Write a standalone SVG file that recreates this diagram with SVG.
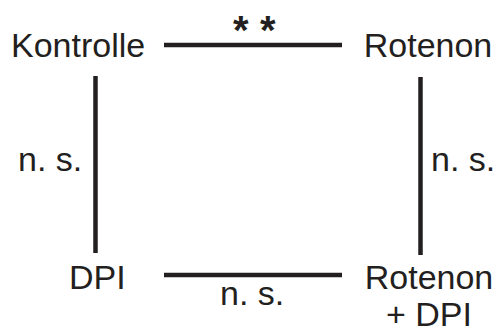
<svg xmlns="http://www.w3.org/2000/svg" width="498" height="331" viewBox="0 0 498 331">
<style>
text{font-family:"Liberation Sans",Arial,sans-serif;font-size:34px;fill:#231f20}
.c{stroke:#231f20;stroke-width:4.5;fill:none}
.a{font-weight:bold;font-size:40px}
</style>
<rect width="498" height="331" fill="#fff"/>
<g id="kontrolle"><text x="11" y="57">Kontrolle</text></g>
<g id="rotenon"><text x="428" y="57" text-anchor="middle">Rotenon</text></g>
<g id="dpi"><text x="69" y="289">DPI</text></g>
<g id="rotenon-dpi"><text x="429" y="289" text-anchor="middle">Rotenon</text><text x="429" y="326" text-anchor="middle">+ DPI</text></g>
<g id="connectors">
<line class="c" x1="164" y1="45" x2="342" y2="45"/>
<line class="c" x1="164" y1="275" x2="342" y2="275"/>
<line class="c" x1="95.5" y1="76" x2="95.5" y2="253"/>
<line class="c" x1="420.5" y1="77" x2="420.5" y2="255"/>
<text class="a" x="233" y="44">*</text><text class="a" x="260" y="44">*</text>
<text x="18" y="171">n. s.</text>
<text x="431" y="171">n. s.</text>
<text x="220" y="305">n. s.</text>
</g>
</svg>
